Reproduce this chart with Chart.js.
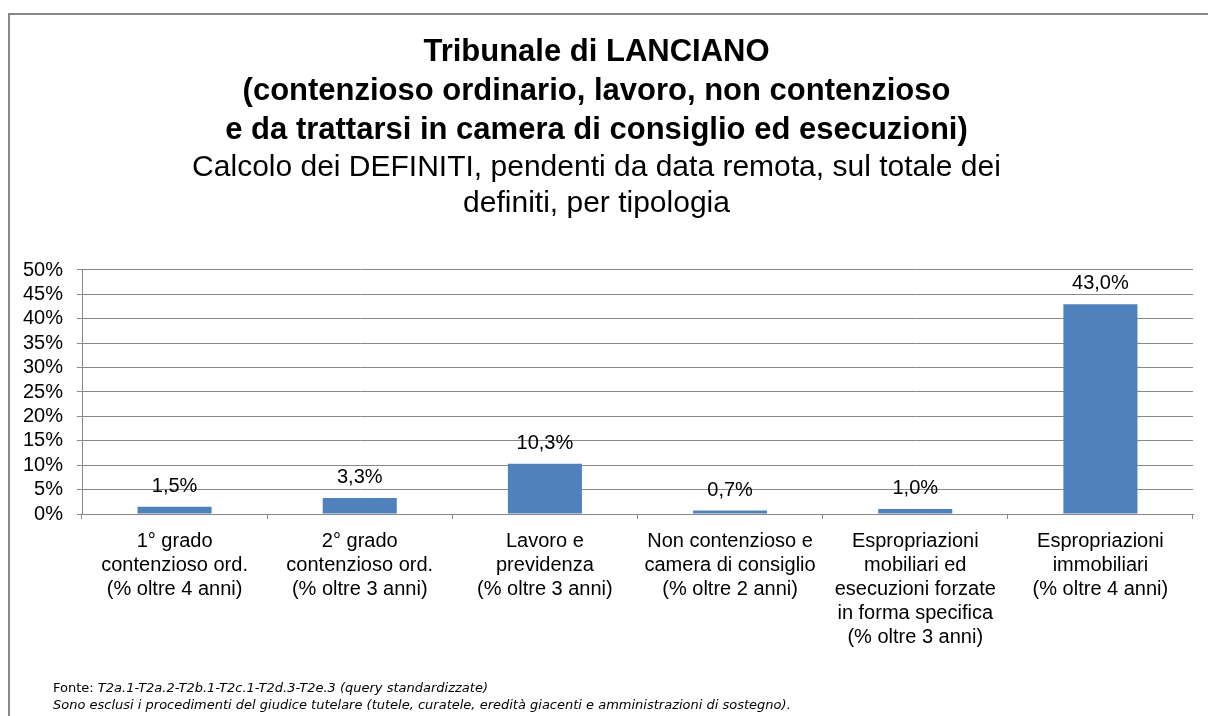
<!DOCTYPE html>
<html>
<head>
<meta charset="utf-8">
<script src="https://cdn.jsdelivr.net/npm/chart.js@4.4.0/dist/chart.umd.min.js"></script>
<style>
  html, body { margin: 0; padding: 0; background: #fff; }
  #wrap { width: 1208px; height: 716px; }
</style>
</head>
<body>
<div id="wrap"><canvas id="chart" width="1208" height="716"></canvas></div>
<script>
const categories = [
    ['1° grado', 'contenzioso ord.', '(% oltre 4 anni)'],
    ['2° grado', 'contenzioso ord.', '(% oltre 3 anni)'],
    ['Lavoro e', 'previdenza', '(% oltre 3 anni)'],
    ['Non contenzioso e', 'camera di consiglio', '(% oltre 2 anni)'],
    ['Espropriazioni', 'mobiliari ed', 'esecuzioni forzate', 'in forma specifica', '(% oltre 3 anni)'],
    ['Espropriazioni', 'immobiliari', '(% oltre 4 anni)']
];
const values = [1.5, 3.3, 10.3, 0.7, 1.0, 43.0];
const yTicks = [0, 5, 10, 15, 20, 25, 30, 35, 40, 45, 50];

const titleLines = [
    'Tribunale di LANCIANO',
    '(contenzioso ordinario, lavoro, non contenzioso',
    'e da trattarsi in camera di consiglio ed esecuzioni)'
];
const subtitleLines = [
    'Calcolo dei DEFINITI, pendenti da data remota, sul totale dei',
    'definiti, per tipologia'
];
const footSource = 'T2a.1-T2a.2-T2b.1-T2c.1-T2d.3-T2e.3 (query standardizzate)';
const footNote = 'Sono esclusi i procedimenti del giudice tutelare (tutele, curatele, eredità giacenti e amministrazioni di sostegno).';

const fmt = v => v.toFixed(1).replace('.', ',') + '%';
const gray = '#888888';
const sans = '"Liberation Sans", Arial, sans-serif';

// cornice esterna + note in basso
const frame = {
    id: 'frame',
    beforeDraw(chart) {
        const c = chart.ctx;
        c.save();
        c.fillStyle = '#fff';
        c.fillRect(0, 0, chart.width, chart.height);
        c.strokeStyle = gray;
        c.lineWidth = 2;
        c.strokeRect(9, 14, 1400, 900);
        c.restore();
    },
    afterDraw(chart) {
        const c = chart.ctx;
        c.save();
        c.fillStyle = '#000';
        c.textBaseline = 'alphabetic';
        c.font = '13px "DejaVu Sans", Verdana, sans-serif';
        c.fillText('Fonte: ', 53, 692);
        const w = c.measureText('Fonte: ').width;
        c.font = 'italic 13px "DejaVu Sans", Verdana, sans-serif';
        c.fillText(footSource, 53 + w, 692);
        c.fillText(footNote, 53, 709);
        c.restore();
    }
};

// etichette dei valori sopra le barre
const valueLabels = {
    id: 'valueLabels',
    afterDatasetsDraw(chart) {
        const c = chart.ctx;
        const meta = chart.getDatasetMeta(0);
        c.save();
        c.font = '20px ' + sans;
        c.fillStyle = '#000';
        c.textAlign = 'center';
        c.textBaseline = 'alphabetic';
        meta.data.forEach((bar, i) => {
            c.fillText(fmt(values[i]), bar.x, bar.y - 15);
        });
        c.restore();
    }
};

new Chart(document.getElementById('chart'), {
    type: 'bar',
    data: {
        labels: categories,
        datasets: [{
            data: values,
            backgroundColor: '#4f81bd',
            borderWidth: 0,
            barPercentage: 0.4,
            categoryPercentage: 1
        }]
    },
    options: {
        responsive: false,
        animation: false,
        layout: { padding: { left: 0, right: 15, top: 0, bottom: 62 } },
        plugins: {
            legend: { display: false },
            tooltip: { enabled: false },
            title: {
                display: true,
                text: titleLines,
                color: '#000',
                font: { family: sans, size: 31, weight: 'bold', lineHeight: 1.258 },
                padding: { top: 33, bottom: 0 }
            },
            subtitle: {
                display: true,
                text: subtitleLines,
                color: '#000',
                font: { family: sans, size: 30, weight: 'normal', lineHeight: 1.2 },
                padding: { top: 0, bottom: 48 }
            }
        },
        scales: {
            x: {
                grid: { display: true, drawOnChartArea: false, color: gray, tickLength: 5, offset: true },
                border: { color: gray },
                ticks: { color: '#000', font: { family: sans, size: 20, lineHeight: 1.2 }, padding: 10, maxRotation: 0, autoSkip: false },
                afterFit(scale) { scale.height = 140; }
            },
            y: {
                min: 0,
                max: 50,
                afterBuildTicks(scale) { scale.ticks = yTicks.map(v => ({ value: v })); },
                grid: { color: gray, tickLength: 5 },
                border: { color: gray },
                ticks: { color: '#000', font: { family: sans, size: 20 }, padding: 14, autoSkip: false, callback: v => v + '%' },
                afterFit(scale) { scale.width = 82; }
            }
        }
    },
    plugins: [frame, valueLabels]
});
</script>
</body>
</html>
